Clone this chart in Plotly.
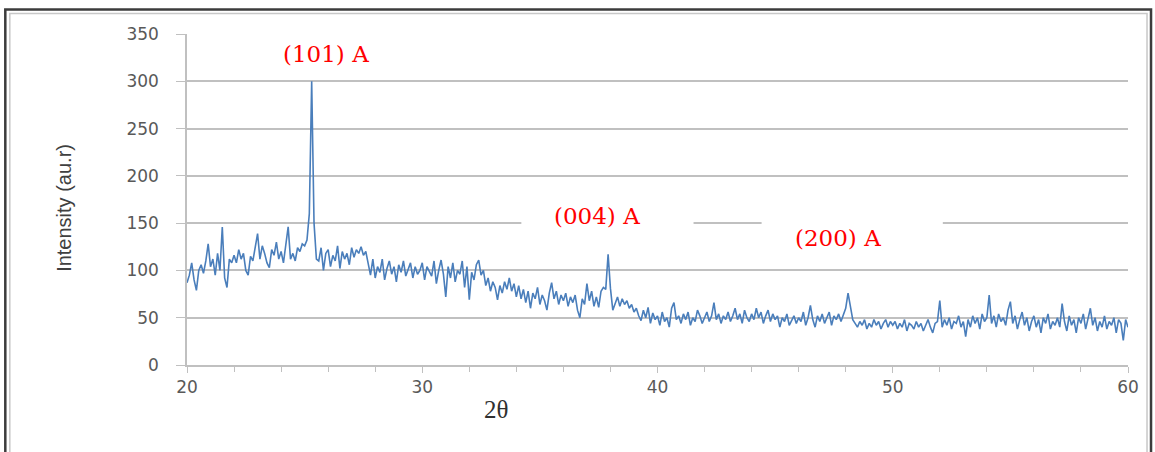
import numpy as np
import plotly.graph_objects as go

# 2-theta grid (0.1 deg steps from 20 to 60)
two_theta = np.round(np.arange(20.0, 60.0001, 0.1), 1)

# intensities, one row per degree
intensity = [
    87, 95, 108, 90, 79, 100, 106, 97, 110, 128,        # 20
    104, 112, 95, 118, 100, 146, 92, 82, 112, 108,      # 21
    116, 108, 122, 112, 118, 100, 95, 115, 110, 125,    # 22
    139, 112, 126, 118, 108, 103, 122, 116, 130, 112,   # 23
    120, 108, 128, 146, 112, 118, 110, 124, 120, 128,   # 24
    126, 132, 160, 300, 150, 112, 110, 124, 100, 118,   # 25
    122, 104, 116, 110, 126, 102, 120, 112, 118, 106,   # 26
    124, 114, 122, 118, 125, 116, 120, 108, 95, 112,    # 27
    92, 104, 98, 112, 90, 102, 110, 96, 104, 88,        # 28
    106, 98, 110, 94, 100, 108, 92, 104, 96, 100,       # 29
    108, 90, 104, 98, 94, 110, 86, 100, 111, 96,        # 30
    72, 104, 92, 108, 88, 100, 96, 110, 82, 104,        # 31
    69, 98, 90, 106, 111, 95, 100, 84, 92, 78,          # 32
    88, 82, 69, 84, 76, 88, 80, 92, 78, 86,             # 33
    72, 84, 70, 80, 66, 78, 60, 76, 70, 82,             # 34
    64, 74, 68, 58, 76, 87, 70, 78, 64, 74,             # 35
    68, 76, 62, 72, 66, 74, 58, 50, 70, 64,             # 36
    86, 68, 78, 62, 72, 61, 78, 82, 80, 117,            # 37
    81, 58, 66, 72, 62, 70, 64, 68, 60, 64,             # 38
    56, 60, 52, 47, 58, 50, 61, 44, 55, 48,             # 39
    52, 42, 56, 46, 50, 40, 60, 66, 48, 52,             # 40
    44, 54, 48, 56, 42, 50, 46, 58, 52, 44,             # 41
    50, 56, 46, 52, 66, 48, 54, 44, 52, 48,             # 42
    56, 46, 52, 60, 48, 54, 44, 58, 50, 46,             # 43
    54, 48, 60, 50, 56, 44, 52, 58, 46, 54,             # 44
    48, 52, 40, 50, 46, 54, 42, 48, 52, 44,             # 45
    50, 46, 56, 42, 50, 63, 48, 40, 52, 46,             # 46
    54, 44, 50, 56, 42, 52, 48, 54, 46, 52,             # 47
    60, 76, 62, 48, 44, 40, 46, 42, 48, 38,             # 48
    44, 40, 48, 42, 46, 38, 44, 48, 40, 46,             # 49
    42, 46, 38, 44, 40, 48, 36, 44, 42, 38,             # 50
    46, 40, 44, 36, 42, 48, 40, 34, 44, 46,             # 51
    68, 40, 48, 42, 50, 38, 46, 44, 52, 40,             # 52
    46, 30, 48, 40, 52, 44, 50, 38, 54, 46,             # 53
    50, 74, 44, 52, 40, 54, 46, 50, 42, 58,             # 54
    67, 44, 52, 38, 48, 56, 42, 50, 36, 46,             # 55
    52, 40, 48, 34, 50, 44, 54, 38, 46, 42,             # 56
    50, 40, 65, 46, 36, 52, 42, 48, 34, 50,             # 57
    44, 54, 38, 48, 60, 42, 50, 36, 46, 40,             # 58
    52, 38, 46, 42, 50, 34, 48, 44, 26, 48,             # 59
    40,                                                 # 60
]

peak_labels = ["(101) A", "(004) A", "(200) A"]
peak_label_x = [25.91, 37.42, 47.67]
peak_label_y = [329, 158, 134]

x_ticks = [20, 30, 40, 50, 60]
y_ticks = [0, 50, 100, 150, 200, 250, 300, 350]

GRID = "#c0c0c0"
TICKFONT = dict(family="DejaVu Sans", size=17, color="#595959")


def px_x(p):
    return (p - 187) / 940


def px_y(p):
    return (365 - p) / 331


fig = go.Figure()
fig.add_trace(go.Scatter(
    x=two_theta, y=intensity, mode="lines",
    line=dict(color="#4a7ebb", width=1.6),
    hoverinfo="x+y", showlegend=False,
))

fig.update_layout(
    width=1155, height=452,
    margin=dict(l=187, r=27, t=34, b=87),
    paper_bgcolor="white", plot_bgcolor="white",
    xaxis=dict(
        range=[20, 60], tickvals=x_ticks, showgrid=False,
        showline=True, linecolor=GRID, linewidth=1.5,
        ticks="outside", ticklen=6, tickcolor=GRID, tickwidth=1.2,
        minor=dict(dtick=2, ticks="outside", ticklen=5, tickcolor=GRID, showgrid=False),
        tickfont=TICKFONT, zeroline=False, fixedrange=True,
    ),
    yaxis=dict(
        range=[0, 350], tickvals=y_ticks, showgrid=True, gridcolor=GRID, gridwidth=1.5,
        showline=True, linecolor=GRID, linewidth=1.5,
        ticks="outside", ticklen=9, tickcolor=GRID, tickwidth=1.2,
        ticklabelstandoff=14,
        tickfont=TICKFONT, zeroline=False, fixedrange=True,
    ),
)

# white label boxes covering gridlines (they do not reach the trace)
boxes_px = [(251, 421, 20, 72), (521, 693, 195, 245), (761, 942, 210, 262)]
for x0, x1, y0, y1 in boxes_px:
    fig.add_shape(type="rect", xref="paper", yref="paper",
                  x0=px_x(x0), x1=px_x(x1), y0=px_y(y1), y1=px_y(y0),
                  fillcolor="white", line=dict(width=0), layer="above")

for txt, lx, ly in zip(peak_labels, peak_label_x, peak_label_y):
    fig.add_annotation(x=lx, y=ly, xref="x", yref="y", text=txt, showarrow=False,
                       font=dict(family="DejaVu Serif", size=23, color="#ff0000"),
                       xanchor="center", yanchor="middle")

# axis titles
fig.add_annotation(x=px_x(64), y=px_y(208), xref="paper", yref="paper",
                   text="Intensity (au.r)", textangle=-90, showarrow=False,
                   font=dict(family="Liberation Sans, sans-serif", size=20, color="#404040"),
                   xanchor="center", yanchor="middle")
fig.add_annotation(x=px_x(496), y=px_y(409), xref="paper", yref="paper",
                   text="2θ", showarrow=False,
                   font=dict(family="Liberation Serif, serif", size=25, color="#303030"),
                   xanchor="center", yanchor="middle")

# chart frame
fig.add_shape(type="rect", xref="paper", yref="paper",
              x0=px_x(5.5), x1=px_x(1150), y0=px_y(470), y1=px_y(9.5),
              line=dict(color="#3c3c3c", width=2.5), fillcolor="rgba(0,0,0,0)", layer="above")
fig.add_shape(type="rect", xref="paper", yref="paper",
              x0=px_x(10), x1=px_x(1146), y0=px_y(470), y1=px_y(13.5),
              line=dict(color="#c8c8c8", width=1.5), fillcolor="rgba(0,0,0,0)", layer="above")

fig.write_html("out.html")
